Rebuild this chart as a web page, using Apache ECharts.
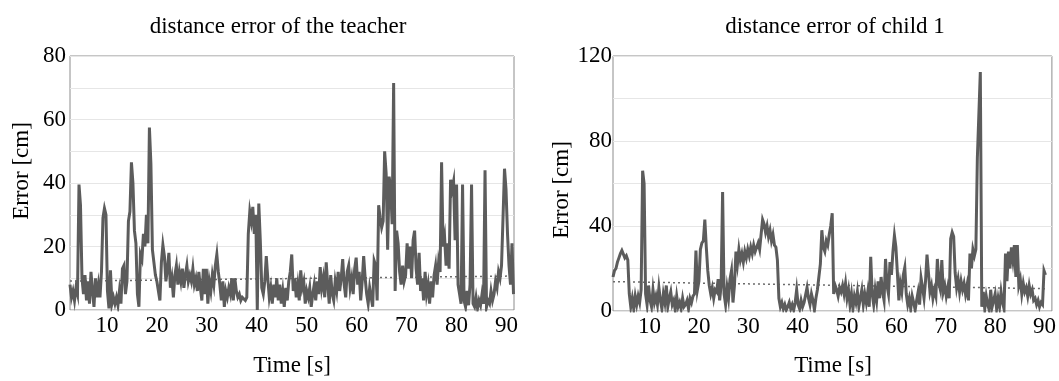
<!DOCTYPE html>
<html>
<head>
<meta charset="utf-8">
<script src="https://cdn.jsdelivr.net/npm/echarts@6/dist/echarts.min.js"></script>
<style>
html,body{margin:0;padding:0;background:#fff;}
#chart{width:1059px;height:381px;}
</style>
</head>
<body>
<div id="chart"></div>
<script>
// Sampling of both recordings: first sample time and step (seconds)
const T0 = 2.6;
const DT = 0.3;

// distance error of the teacher [cm]
const teacherError = [
  8, 4, 6, 3, 7, 5, 39.5, 33, 10, 5,
  11, 3, 9, 2, 12, 6, 1, 10, 4, 8,
  4, 12, 29, 32, 30, 6, 0.5, 12.5, 2, 4,
  2, 4, 1.5, 6, 2, 13, 14, 5, 9, 28,
  31, 46.5, 40, 25, 21, 5, 1, 17.5, 16, 24,
  20, 30, 21, 57.5, 46, 19, 15, 11, 9, 6,
  3, 15, 20.5, 17, 9, 13, 18, 7, 10, 4,
  11, 14, 8, 12, 9, 13, 7, 11, 14, 9,
  11, 9, 13, 8, 10, 6, 12, 7, 3, 13,
  5, 13, 2, 9, 6, 11, 8, 14, 17.5, 12,
  8, 3, 9, 1, 6, 4, 7, 5, 10, 3,
  10, 6, 4, 5, 3, 4, 3.5, 3, 4, 24,
  31, 28, 32.5, 24, 30, 0, 33.5, 22, 7, 5,
  9, 17, 10, 4, 7, 2, 8, 4, 10, 3,
  8, 2, 6, 1, 7, 3, 9, 12, 17.5, 6,
  10, 4, 8, 3, 12.5, 7, 9, 2, 6, 4,
  7, 1, 5, 8, 3, 9, 5, 13.5, 7, 10,
  4, 15, 8, 2, 11, 5, 3, 9, 6, 12,
  6, 10, 16, 8, 4, 12, 14, 7, 10, 5,
  13, 16.5, 8, 12, 3, 9, 17, 10, 5, 2,
  7, 4, 1, 15.5, 14, 3, 33, 29, 26, 28,
  50, 43, 19, 42, 38.5, 27, 71.5, 6, 25, 21,
  12, 8, 14, 9, 11, 21, 13, 20, 10, 22,
  25, 13, 8, 18, 6, 10, 3, 12, 5, 8,
  2, 9, 4, 11, 14, 8, 15, 12, 46.5, 20,
  23, 14, 21, 13, 41, 38, 40.5, 22, 39.5, 8,
  5, 2, 39.5, 3, 1, 6, 1.5, 8, 39.5, 2,
  1, 4, 0.5, 3, 1.5, 5, 2, 44, 1, 3,
  2, 6, 3, 5, 9, 7, 12, 10, 14, 29,
  44.5, 38, 24, 14, 8, 21, 5
];

// distance error of child 1 [cm]
const childError = [
  16, 19, 20, 23, 25, 27, 28.5, 28, 25, 26,
  24, 8, 2, 6, 1, 7, 3, 7, 4, 10,
  66, 60, 8, 3, 12, 5, 2, 10, 4, 7,
  3, 11, 5, 1, 8, 4, 12, 2, 6, 9,
  3, 5, 0.5, 7, 2, 4, 1, 6, 2, 3,
  5, 1, 6, 4, 7, 8, 28.5, 10, 14, 29,
  32, 33, 43, 30, 19, 12, 8, 11, 6, 10,
  9, 15, 5, 12, 56, 8, 3, 11, 6, 15,
  19, 4, 12, 28, 22, 29, 24, 27, 23, 28,
  25, 29, 26, 30, 27, 31, 28, 30, 32, 29,
  36, 43, 41, 37, 40, 35, 38, 33, 36, 31,
  30, 24, 6, 2, 4, 1, 3, 0.5, 2, 4,
  1, 3, 0.5, 4, 10, 3, 1, 5, 2, 4,
  4, 11, 6, 3, 8, 5, 0.5, 6, 10, 16,
  22, 38, 30, 28, 33, 31, 36, 40, 46, 8,
  12, 10, 7, 11, 9, 12, 8, 13, 6, 10,
  3, 8, 1, 7, 4, 9, 2, 6, 10, 3,
  8, 4, 9, 2, 25.5, 8, 3, 10, 5, 14,
  6, 16, 9, 5, 24.5, 12, 8, 23, 17, 28,
  35.5, 30, 18, 5, 13, 9, 17, 20.5, 8, 3,
  6, 1, 7, 4, 0.5, 5, 9, 3, 15.5, 11,
  6, 14, 26.5, 18, 9, 12, 6, 10, 7, 24.5,
  13, 10, 24, 9, 12, 7, 11, 6, 34, 37,
  35, 18, 11, 15, 9, 14, 10, 13, 8, 12,
  5, 27, 20, 29, 26, 29, 72, 72, 112.5, 2,
  9, 1, 7, 3, 0.5, 10, 2, 5, 8, 1,
  6, 2, 9, 4, 1, 27, 14, 28, 20, 30,
  24, 31, 16, 31, 12, 15, 8, 13, 9, 11,
  7, 12, 8, 10, 5, 6, 3, 5, 2, 4,
  3, 19, 17
];

// dotted trend lines: [time, error]
const teacherTrend = [[2.6, 9.1], [91.4, 10.7]];
const childTrend = [[2.6, 13.8], [90.2, 10.5]];

// axes
const timeRange = [2.6, 91.5];
const teacherYMax = 80, teacherGrid = 10, teacherLabelStep = 20;
const childYMax = 120, childGrid = 20, childLabelStep = 40;

const titles = ['distance error of the teacher', 'distance error of child 1'];
const yName = 'Error [cm]';
const xName = 'Time [s]';

function toPairs(arr) { return arr.map((v, i) => [+(T0 + i * DT).toFixed(2), v]); }

const FONT = 'Liberation Serif';
const lineColor = '#5c5c5c';

function xAxis(gi) {
  return {
    type: 'value', gridIndex: gi, min: timeRange[0], max: timeRange[1],
    minInterval: 10, maxInterval: 10,
    axisLine: { show: false }, axisTick: { show: false }, splitLine: { show: false },
    axisLabel: {
      color: '#000', fontFamily: FONT, fontSize: 23, margin: 4,
      formatter: v => (Math.abs(v - Math.round(v / 10) * 10) < 1e-6 ? String(Math.round(v)) : '')
    }
  };
}
function yAxis(gi, max, step, labelStep, margin) {
  return {
    type: 'value', gridIndex: gi, min: 0, max: max, interval: step,
    axisLine: { show: false }, axisTick: { show: false },
    splitLine: { show: true, lineStyle: { color: '#e6e6e6', width: 1 } },
    axisLabel: {
      color: '#000', fontFamily: FONT, fontSize: 23, margin: margin,
      formatter: v => (v % labelStep === 0 ? String(v) : '')
    }
  };
}

const chart = echarts.init(document.getElementById('chart'), null, { renderer: 'canvas' });
chart.setOption({
  animation: false,
  backgroundColor: '#fff',
  title: [
    { text: titles[0], left: 273, top: 10, textAlign: 'center',
      textStyle: { fontFamily: FONT, fontSize: 23, fontWeight: 'normal', color: '#000' } },
    { text: titles[1], left: 830, top: 10, textAlign: 'center',
      textStyle: { fontFamily: FONT, fontSize: 23, fontWeight: 'normal', color: '#000' } }
  ],
  grid: [
    { left: 70, top: 56, width: 444, height: 254, show: true, borderColor: '#8c8c8c', borderWidth: 1, backgroundColor: 'transparent' },
    { left: 613, top: 56, width: 445, height: 255, show: true, borderColor: '#8c8c8c', borderWidth: 1, backgroundColor: 'transparent' }
  ],
  xAxis: [xAxis(0), xAxis(1)],
  yAxis: [
    yAxis(0, teacherYMax, teacherGrid, teacherLabelStep, 4),
    yAxis(1, childYMax, childGrid, childLabelStep, 1)
  ],
  graphic: [
    { type: 'text', x: 22, y: 171, rotation: Math.PI / 2,
      style: { text: yName, font: '23px "Liberation Serif"', fill: '#000', align: 'center', verticalAlign: 'middle' } },
    { type: 'text', x: 562, y: 190, rotation: Math.PI / 2,
      style: { text: yName, font: '23px "Liberation Serif"', fill: '#000', align: 'center', verticalAlign: 'middle' } },
    { type: 'text', x: 292, y: 366,
      style: { text: xName, font: '23px "Liberation Serif"', fill: '#000', align: 'center', verticalAlign: 'middle' } },
    { type: 'text', x: 833, y: 366,
      style: { text: xName, font: '23px "Liberation Serif"', fill: '#000', align: 'center', verticalAlign: 'middle' } }
  ],
  series: [
    { type: 'line', xAxisIndex: 0, yAxisIndex: 0, data: teacherTrend, showSymbol: false, z: 1,
      lineStyle: { color: '#6a6a6a', width: 1.5, type: [2, 3] } },
    { type: 'line', xAxisIndex: 1, yAxisIndex: 1, data: childTrend, showSymbol: false, z: 1,
      lineStyle: { color: '#6a6a6a', width: 1.5, type: [2, 3] } },
    { type: 'line', xAxisIndex: 0, yAxisIndex: 0, data: toPairs(teacherError), showSymbol: false, z: 2,
      lineStyle: { color: lineColor, width: 3, join: 'miter' } },
    { type: 'line', xAxisIndex: 1, yAxisIndex: 1, data: toPairs(childError), showSymbol: false, z: 2,
      lineStyle: { color: lineColor, width: 3, join: 'miter' } }
  ]
});
</script>
</body>
</html>
